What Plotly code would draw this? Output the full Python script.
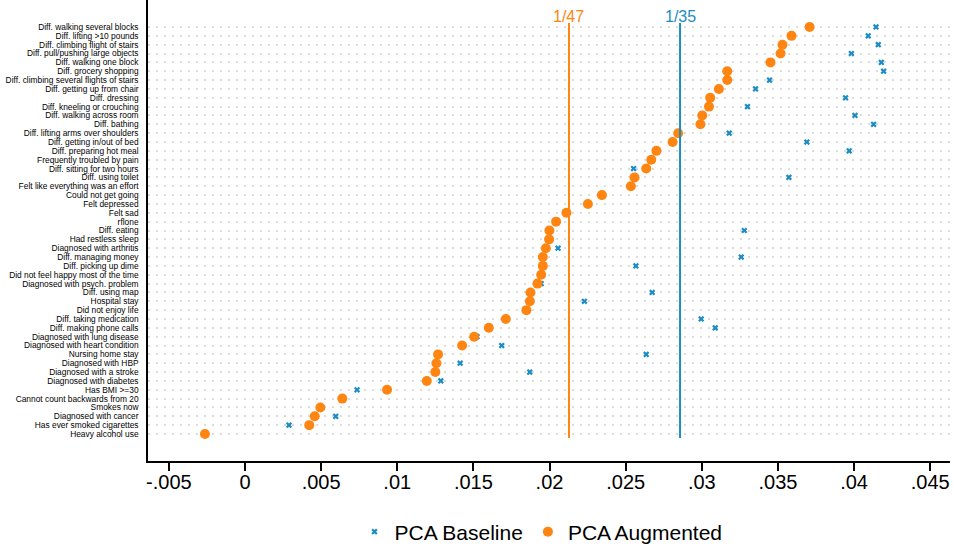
import plotly.graph_objects as go

labels = [
    "Diff. walking several blocks", "Diff. lifting >10 pounds", "Diff. climbing flight of stairs",
    "Diff. pull/pushing large objects", "Diff. walking one block", "Diff. grocery shopping",
    "Diff. climbing several flights of stairs", "Diff. getting up from chair", "Diff. dressing",
    "Diff. kneeling or crouching", "Diff. walking across room", "Diff. bathing",
    "Diff. lifting arms over shoulders", "Diff. getting in/out of bed", "Diff. preparing hot meal",
    "Frequently troubled by pain", "Diff. sitting for two hours", "Diff. using toilet",
    "Felt like everything was an effort", "Could not get going", "Felt depressed", "Felt sad",
    "rflone", "Diff. eating", "Had restless sleep", "Diagnosed with arthritis",
    "Diff. managing money", "Diff. picking up dime", "Did not feel happy most of the time",
    "Diagnosed with psych. problem", "Diff. using map", "Hospital stay", "Did not enjoy life",
    "Diff. taking medication", "Diff. making phone calls", "Diagnosed with lung disease",
    "Diagnosed with heart condition", "Nursing home stay", "Diagnosed with HBP",
    "Diagnosed with a stroke", "Diagnosed with diabetes", "Has BMI >=30",
    "Cannot count backwards from 20", "Smokes now", "Diagnosed with cancer",
    "Has ever smoked cigarettes", "Heavy alcohol use",
]

augmented = [
    0.03708, 0.03589, 0.03530, 0.03517, 0.03451, 0.03167, 0.03167, 0.03112, 0.03055,
    0.03047, 0.03003, 0.02991, 0.02845, 0.02808, 0.02702, 0.02668, 0.02635, 0.02558,
    0.02534, 0.02344, 0.02252, 0.02111, 0.02043, 0.01999, 0.01997, 0.01976, 0.01956,
    0.01956, 0.01945, 0.01921, 0.01875, 0.01871, 0.01848, 0.01713, 0.01601, 0.01505,
    0.01426, 0.01268, 0.01257, 0.01250, 0.01194, 0.00933, 0.00639, 0.00495, 0.00458,
    0.00422, -0.00263,
]

baseline = [
    0.04144, 0.04093, 0.04159, 0.03982, 0.04179, 0.04194, 0.03445, 0.03353, 0.03944,
    0.03300, 0.04006, 0.04128, 0.03180, 0.03690, 0.03968, None, 0.02552, 0.03572,
    None, None, None, None, None, 0.03279, None, 0.02056, 0.03259, 0.02567, None,
    0.01945, 0.02674, 0.02229, None, 0.02996, 0.03088, 0.01524, 0.01686, 0.02635,
    0.01413, 0.01870, 0.01286, 0.00736, None, None, 0.00596, 0.00289, None,
]

ref_lines = [("1/47", 1 / 47), ("1/35", 1 / 35)]
xtick_vals = [-0.005, 0, 0.005, 0.01, 0.015, 0.02, 0.025, 0.03, 0.035, 0.04, 0.045]
xtick_text = ["-.005", "0", ".005", ".01", ".015", ".02", ".025", ".03", ".035", ".04", ".045"]

ORANGE = "#ff8512"
BLUE = "#1b8cc4"
FONT = "Liberation Sans, Arial, Helvetica, sans-serif"

fig = go.Figure()
fig.add_trace(go.Scatter(
    x=baseline, y=labels, mode="markers", name="PCA Baseline",
    marker=dict(symbol="x", size=5.5, color=BLUE, line=dict(width=0)),
))
fig.add_trace(go.Scatter(
    x=augmented, y=labels, mode="markers", name="PCA Augmented",
    marker=dict(symbol="circle", size=10, color=ORANGE, line=dict(width=0)),
))

line_colors = [ORANGE, BLUE]
n = len(labels)
for (txt, val), col in zip(ref_lines, line_colors):
    fig.add_shape(type="line", xref="x", yref="y", x0=val, x1=val, y0=-0.45, y1=n - 1 + 0.45,
                  line=dict(color=col, width=2), layer="above")
    fig.add_annotation(x=val, y=-1.15, xref="x", yref="y", text=txt, showarrow=False,
                       font=dict(size=16, color=col, family=FONT), yanchor="middle")

fig.update_layout(
    width=953, height=547,
    margin=dict(l=148, r=3, t=0, b=86, autoexpand=False),
    plot_bgcolor="white", paper_bgcolor="white",
    font=dict(family=FONT, color="black"),
    showlegend=True,
    legend=dict(orientation="h", x=0.49, xanchor="center", xref="paper",
                yref="container", y=(547 - 532) / 547, yanchor="middle",
                font=dict(size=21, family=FONT), itemwidth=30),
    xaxis=dict(
        range=[-0.00637, 0.0463], tickvals=xtick_vals, ticktext=xtick_text,
        showgrid=False, zeroline=False, showline=True, linecolor="black", linewidth=1.5,
        ticks="outside", ticklen=8, tickwidth=1.5, tickcolor="black",
        tickfont=dict(size=20, family=FONT), automargin=False, ticklabelstandoff=-6,
    ),
    yaxis=dict(
        type="category", categoryorder="array", categoryarray=labels,
        tickmode="array", tickvals=labels, ticktext=labels,
        range=[49.05, -3.05], showgrid=True, gridcolor="#dcdcdc", gridwidth=2,
        griddash="2px,6px", zeroline=False, showline=True, linecolor="black", linewidth=1.5,
        ticks="", tickfont=dict(size=8.4, family=FONT), ticklabelstandoff=6,
        automargin=False,
    ),
)

fig.write_html(
    "out.html",
    config={"displayModeBar": False},
    post_script="document.body.style.margin='0';document.body.style.overflow='hidden';",
)
